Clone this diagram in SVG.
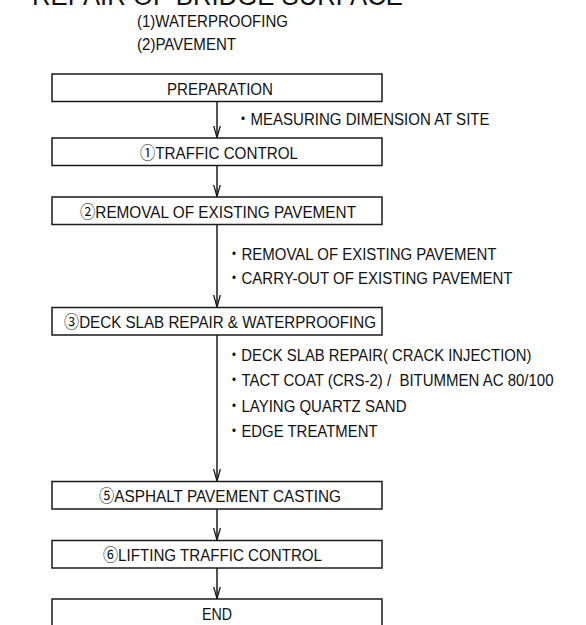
<svg xmlns="http://www.w3.org/2000/svg" width="586" height="625" viewBox="0 0 586 625">
  <style>
    .t { font-family: "Liberation Sans", "Noto Sans CJK JP", sans-serif; font-size: 17px; fill: #111; }
    .title { font-family: "Liberation Sans", "Noto Sans CJK JP", sans-serif; font-size: 28px; fill: #111; }
    .box { fill: #fff; stroke: #1a1a1a; stroke-width: 1.5; }
    .conn { stroke: #1a1a1a; stroke-width: 1.5; fill: none; }
  </style>
  <defs>
    <marker id="arr" viewBox="0 0 13 8" refX="12.5" refY="4" markerWidth="13" markerHeight="8" markerUnits="userSpaceOnUse" orient="auto">
      <path d="M0,0.6 L12,4 L0,7.4" fill="none" stroke="#1a1a1a" stroke-width="1.3"/>
    </marker>
  </defs>
  <rect width="586" height="625" fill="#fff"/>

  <g id="title">
    <text class="title" x="32" y="4.5" textLength="371" lengthAdjust="spacingAndGlyphs">REPAIR OF BRIDGE SURFACE</text>
    <text class="t" x="137" y="26.5" textLength="151" lengthAdjust="spacingAndGlyphs">(1)WATERPROOFING</text>
    <text class="t" x="137" y="50" textLength="99" lengthAdjust="spacingAndGlyphs">(2)PAVEMENT</text>
  </g>

  <g id="connectors">
    <line class="conn" x1="217" y1="101.5" x2="217" y2="138" marker-end="url(#arr)"/>
    <line class="conn" x1="217" y1="165.5" x2="217" y2="197" marker-end="url(#arr)"/>
    <line class="conn" x1="217" y1="224.5" x2="217" y2="307.5" marker-end="url(#arr)"/>
    <line class="conn" x1="217" y1="335" x2="217" y2="481.5" marker-end="url(#arr)"/>
    <line class="conn" x1="217" y1="509" x2="217" y2="540.5" marker-end="url(#arr)"/>
    <line class="conn" x1="217" y1="568" x2="217" y2="599" marker-end="url(#arr)"/>
    <text class="t" x="235.5" y="125" textLength="254" lengthAdjust="spacingAndGlyphs">・MEASURING DIMENSION AT SITE</text>
    <text class="t" x="226.5" y="260" textLength="270" lengthAdjust="spacingAndGlyphs">・REMOVAL OF EXISTING PAVEMENT</text>
    <text class="t" x="226.5" y="283.5" textLength="286" lengthAdjust="spacingAndGlyphs">・CARRY-OUT OF EXISTING PAVEMENT</text>
    <text class="t" x="226.5" y="360.5" textLength="305" lengthAdjust="spacingAndGlyphs">・DECK SLAB REPAIR( CRACK INJECTION)</text>
    <text class="t" x="226.5" y="386" textLength="327" lengthAdjust="spacingAndGlyphs" xml:space="preserve">・TACT COAT (CRS-2) /  BITUMMEN AC 80/100</text>
    <text class="t" x="226.5" y="411.5" textLength="180" lengthAdjust="spacingAndGlyphs">・LAYING QUARTZ SAND</text>
    <text class="t" x="226.5" y="437" textLength="151" lengthAdjust="spacingAndGlyphs">・EDGE TREATMENT</text>
  </g>

  <g id="n-preparation">
    <rect class="box" x="52" y="74" width="330" height="27.5"/>
    <text class="t" x="167" y="94.5" textLength="106" lengthAdjust="spacingAndGlyphs">PREPARATION</text>
  </g>
  <g id="n-traffic-control">
    <rect class="box" x="52" y="138" width="330" height="27.5"/>
    <text class="t" x="140" y="158.5" textLength="158" lengthAdjust="spacingAndGlyphs">①TRAFFIC CONTROL</text>
  </g>
  <g id="n-removal">
    <rect class="box" x="52" y="197" width="330" height="27.5"/>
    <text class="t" x="80" y="217.5" textLength="276" lengthAdjust="spacingAndGlyphs">②REMOVAL OF EXISTING PAVEMENT</text>
  </g>
  <g id="n-deck-slab">
    <rect class="box" x="52" y="307.5" width="330" height="27.5"/>
    <text class="t" x="64" y="328" textLength="312" lengthAdjust="spacingAndGlyphs">③DECK SLAB REPAIR &amp; WATERPROOFING</text>
  </g>
  <g id="n-asphalt">
    <rect class="box" x="52" y="481.5" width="330" height="27.5"/>
    <text class="t" x="99" y="501.5" textLength="242" lengthAdjust="spacingAndGlyphs">⑤ASPHALT PAVEMENT CASTING</text>
  </g>
  <g id="n-lifting">
    <rect class="box" x="52" y="540.5" width="330" height="27.5"/>
    <text class="t" x="103" y="561" textLength="219" lengthAdjust="spacingAndGlyphs">⑥LIFTING TRAFFIC CONTROL</text>
  </g>
  <g id="n-end">
    <rect class="box" x="52" y="599" width="330" height="40"/>
    <text class="t" x="202" y="620" textLength="30" lengthAdjust="spacingAndGlyphs">END</text>
  </g>
</svg>
